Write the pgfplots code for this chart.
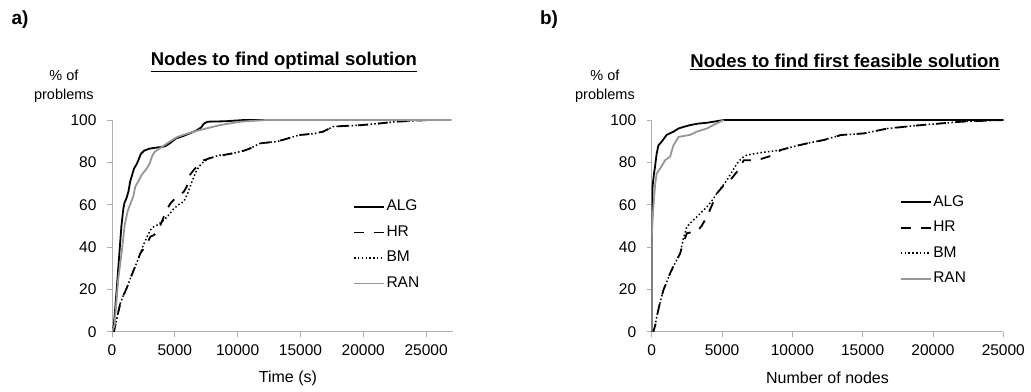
\documentclass[border=0pt]{standalone}
\usepackage{fontspec}
\setmainfont{Liberation Sans}
\usepackage{pgfplots}
\pgfplotsset{compat=1.18}
\definecolor{rangray}{RGB}{150,150,150}
\definecolor{axgray}{RGB}{175,175,175}
\newcommand{\tfont}{\fontsize{15.5}{18}\selectfont}
\pgfplotsset{
  mystyle/.style={
    scale only axis,
    anchor=south west,
    height=211.7pt,
    axis x line=bottom, axis y line=left,
    axis line style={-, axgray, line width=0.8pt},
    every tick/.style={axgray, line width=0.8pt},
    tick align=outside, major tick length=5pt,
    ymin=0, ymax=100, ytick={0,20,...,100},
    xmin=0, scaled ticks=false,
    /pgf/number format/assume math mode=true,
    /pgf/number format/1000 sep={},
    ticklabel style={font=\tfont},
    yticklabel style={xshift=-7pt},
    xticklabel style={yshift=-4pt},
    xlabel style={font=\fontsize{16}{18}\selectfont, anchor=center},
    title style={font=\fontsize{18.5}{20}\selectfont\bfseries, anchor=center},
    ylabel style={rotate=-90, align=center, anchor=center, font=\fontsize{14.5}{18.5}\selectfont},
    legend cell align=left,
    legend style={draw=none, fill=none, anchor=north west, font=\tfont,
      row sep=7.5pt,
      nodes={inner xsep=1.5pt, inner ysep=2pt, text height=11pt, text depth=3pt}},
    legend image code/.code={\draw[##1] (0pt,0pt) -- (30pt,0pt);},
  },
  algs/.style={black, line width=1.8pt, line join=round},
  hrs/.style={black, line width=1.8pt, dash pattern=on 10pt off 10pt},
  bms/.style={black, line width=1.5pt, dash pattern=on 1.5pt off 2.3pt},
  rans/.style={rangray, line width=1.8pt, line join=round},
}
\begin{document}
\begin{tikzpicture}
\useasboundingbox (0pt,0pt) rectangle (1031pt,391pt);
\node[font=\fontsize{19}{21}\selectfont\bfseries] at (20pt,371pt) {a)};
\node[font=\fontsize{19}{21}\selectfont\bfseries] at (549pt,371pt) {b)};

\begin{axis}[mystyle,
  at={(112pt,59.3pt)}, width=341pt,
  xmax=27140, xtick={0,5000,...,25000},
  title={\underline{Nodes to find optimal solution}},
  title style={at={(axis description cs:0.504,1.245)}},
  xlabel={Time (s)},
  xlabel style={at={(axis description cs:0.516,-0.219)}},
  ylabel={\% of\\problems},
  ylabel style={at={(axis description cs:-0.141,1.16)}},
  legend style={at={(axis description cs:0.698,0.642)}},
]
\addplot[algs] coordinates {(0,0) (150,3) (400,22) (600,38) (750,50) (900,58) (1000,61) (1150,63) (1300,66) (1450,71) (1600,74) (1750,77) (1950,79) (2100,81) (2300,84) (2550,85.5) (3000,86.5) (3600,87) (4200,87.5) (4600,89) (5100,91.3) (5700,92.5) (6200,93.7) (6700,95) (7100,96.5) (7300,98.2) (7600,99.2) (9000,99.4) (10500,100) (27000,100)};
\addlegendentry{ALG}
\addplot[hrs] coordinates {(0,0) (150,0) (300,4) (450,8) (660,13.4) (900,17) (1200,21) (1450,25) (1720,29) (2000,33) (2250,37) (2500,39) (2800,41.7) (3050,44.9) (3300,45.5) (3600,47) (3900,51) (4100,54) (4400,58) (4650,60.6) (5150,63.8) (5700,66) (5950,68.5) (6200,74) (6450,76) (6750,78) (7000,79.5) (7300,81) (7800,82) (8500,83) (9650,84.3) (10500,85.5) (11000,86.6) (11800,89) (13100,89.8) (13600,90.6) (14900,92.9) (16000,93.5) (16800,94.5) (17600,96.9) (19900,97.6) (21000,98.2) (22600,99.2) (25200,100) (27000,100)};
\addlegendentry{HR}
\addplot[bms] coordinates {(0,0) (150,0) (300,4) (450,8) (660,13.4) (900,17) (1200,21) (1450,25) (1720,29) (2000,33) (2250,37) (2500,41) (2800,45) (3050,48) (3300,49.5) (3600,50.4) (4000,52) (4400,54.3) (4900,58) (5300,60) (5700,61.4) (6000,65) (6250,69) (6500,73) (6750,76.4) (7000,78.5) (7300,80.3) (7800,82) (8500,83.3) (9650,84.3) (10500,85.5) (11000,86.6) (11800,89) (13100,89.8) (13600,90.6) (14900,92.9) (16000,93.5) (16800,94.5) (17600,96.9) (19900,97.6) (21000,98.2) (22600,99.2) (25200,100) (27000,100)};
\addlegendentry{BM}
\addplot[rans] coordinates {(0,0) (200,3) (500,25) (800,39) (1000,50) (1100,53) (1250,57) (1500,61) (1700,64) (1850,68.5) (2100,71) (2350,74) (2750,77) (3000,79.5) (3200,83) (3400,85) (4000,87.4) (4600,89.8) (5200,92) (5800,93.2) (6500,94.5) (7500,96) (8600,97.6) (10200,99.2) (12300,100) (27000,100)};
\addlegendentry{RAN}
\end{axis}

\begin{axis}[mystyle,
  at={(651.7pt,59.3pt)}, width=351.6pt,
  xmax=25000, xtick={0,5000,...,25000},
  title={\underline{Nodes to find first feasible solution}},
  title style={at={(axis description cs:0.55,1.245)}},
  xlabel={Number of nodes},
  xlabel style={at={(axis description cs:0.5,-0.219)}},
  ylabel={\% of\\problems},
  ylabel style={at={(axis description cs:-0.133,1.16)}},
  legend style={at={(axis description cs:0.697,0.665)}},
]
\addplot[algs] coordinates {(0,0) (0,40) (30,60) (60,68.5) (150,74) (238,78) (350,84) (476,88) (714,89.8) (900,91.5) (1071,93) (1300,93.7) (1548,94.5) (1905,96) (2300,96.8) (2738,97.6) (3300,98.3) (3929,98.7) (4500,99.3) (5119,100) (25000,100)};
\addlegendentry{ALG}
\addplot[hrs] coordinates {(0,0) (119,0) (250,3) (357,7) (600,14) (833,19.7) (1070,23.5) (1310,27.6) (1550,31) (1786,33.9) (2024,37) (2250,42) (2500,46.5) (2850,47) (3214,47.2) (3550,50) (3929,54.3) (4300,60) (4643,65.4) (5100,69) (5595,71.7) (6071,75.6) (6548,81) (7500,81) (8690,83.5) (9167,85.8) (10100,87.5) (11071,89) (12262,90.6) (13452,92.9) (15115,93.7) (16785,96) (19165,97.6) (22020,99.2) (25000,100)};
\addlegendentry{HR}
\addplot[bms] coordinates {(0,0) (119,0) (250,3) (357,7) (600,14) (833,19.7) (1070,23.5) (1310,27.6) (1550,31) (1786,33.9) (2024,37) (2250,44) (2500,49.6) (2850,52) (3214,54.3) (3550,56.5) (3929,59) (4300,62) (4643,65.4) (5000,68.5) (5357,71.7) (5700,75.5) (6071,79.5) (6400,82) (6786,83.5) (7500,84.3) (8214,85) (9167,85.8) (10100,87.5) (11071,89) (12262,90.6) (13452,92.9) (15115,93.7) (16785,96) (19165,97.6) (22020,99.2) (25000,100)};
\addlegendentry{BM}
\addplot[rans] coordinates {(0,0) (0,44.9) (119,59) (250,70) (357,74.8) (595,77) (952,81) (1310,82.7) (1450,86) (1548,88) (1905,92) (2400,92.6) (2738,93) (3214,94.5) (3929,96) (4500,98) (5119,100)};
\addlegendentry{RAN}
\end{axis}
\end{tikzpicture}
\end{document}
